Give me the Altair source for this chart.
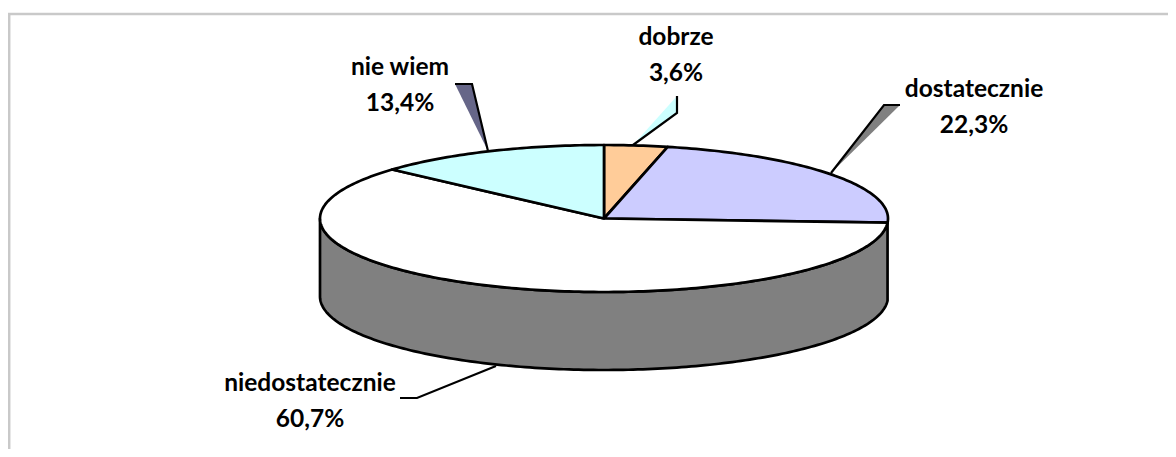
import math
import altair as alt
import pandas as pd

# --- data -----------------------------------------------------------------
categories = ["dobrze", "dostatecznie", "niedostatecznie", "nie wiem"]
shares = [3.6, 22.3, 60.7, 13.4]
share_labels = ["3,6%", "22,3%", "60,7%", "13,4%"]

# --- styling / layout ------------------------------------------------------
slice_fills = ["#FFCC99", "#CCCCFF", "#FFFFFF", "#CCFFFF"]
SIDE_FILL = "#808080"
BORDER = "#C9C9C9"
W, H = 1160, 441
X0, Y0 = 8, 8               # picture px of the chart's top-left corner
CX, CY, RX, RY, DEPTH = 604, 218.5, 284, 73.5, 78

label_pos = {
    "dobrze": (676, 38, 74),
    "dostatecznie": (974, 90, 126),
    "niedostatecznie": (310, 384, 420),
    "nie wiem": (400, 68, 104),
}
leaders = {
    "dobrze": [(633, 145), (677, 113), (677, 96)],
    "dostatecznie": [(831, 173), (884, 105), (900, 105)],
    "niedostatecznie": [(496, 366), (417, 398), (400, 398)],
    "nie wiem": [(488, 151), (472, 84), (455, 84)],
}
leader_fills = {"dobrze": "#CCFFFF", "dostatecznie": "#808080", "nie wiem": "#666688"}


def rim(angle_deg, dy=0.0):
    a = math.radians(angle_deg)
    return [CX + RX * math.sin(a), CY - RY * math.cos(a) + dy]


def arc_pts(a0, a1, dy=0.0):
    n = max(2, int(abs(a1 - a0) / 1.0) + 1)
    return [rim(a0 + (a1 - a0) * i / n, dy) for i in range(n + 1)]


def polygon(points):
    ring = [list(p) for p in points]
    ring.append(ring[0])
    return {"type": "Feature", "properties": {},
            "geometry": {"type": "Polygon", "coordinates": [ring]}}


def shape(points, fill, stroke=None, width=2.7):
    kw = {"fill": fill, "strokeJoin": "round"}
    if stroke:
        kw.update(stroke=stroke, strokeWidth=width)
    else:
        kw.update(strokeWidth=0)
    return (
        alt.Chart(alt.Data(values=[polygon(points)]))
        .mark_geoshape(**kw)
        .project(type="identity", scale=1, translate=[-X0, -Y0])
    )


x_scale = alt.Scale(domain=[X0, X0 + W], range=[0, W])
y_scale = alt.Scale(domain=[Y0, Y0 + H], range=[0, H])
X = alt.X("x:Q", scale=x_scale, axis=None)
Y = alt.Y("y:Q", scale=y_scale, axis=None)


def polyline(points, color, width):
    df = pd.DataFrame({"x": [p[0] for p in points], "y": [p[1] for p in points],
                       "i": range(len(points))})
    return alt.Chart(df).mark_line(color=color, strokeWidth=width, strokeJoin="miter").encode(
        x=X, y=Y, order="i:Q")


layers = []

# chart-area border: only the top and left edges are visible
layers.append(polyline([(X0 + W, 14), (9.2, 14), (9.2, Y0 + H)], BORDER, 2.5))

# leader fills and lines
for name, pts in leaders.items():
    if name in leader_fills:
        layers.append(shape(pts, leader_fills[name]))
for name, pts in leaders.items():
    layers.append(polyline(pts, "#000000", 2.2))

# pie wall, front half only
total = sum(shares)
starts, c = [], 0.0
for s in shares:
    starts.append(c / total * 360)
    c += s
ends = starts[1:] + [360.0]
wall_a0, wall_a1 = ends[1], 270.0
wall = arc_pts(wall_a0, wall_a1) + arc_pts(wall_a1, wall_a0, DEPTH)
layers.append(shape(wall, SIDE_FILL, "#000000"))

# pie top
for a0, a1, fill in zip(starts, ends, slice_fills):
    layers.append(shape([[CX, CY]] + arc_pts(a0, a1), fill, "#000000"))

# labels
rows = []
for cat, lab in zip(categories, share_labels):
    lx, y1, y2 = label_pos[cat]
    rows.append({"x": lx, "y": y1, "t": cat})
    rows.append({"x": lx, "y": y2, "t": lab})
layers.append(
    alt.Chart(pd.DataFrame(rows))
    .mark_text(font="Lato", fontWeight="bold", fontSize=24.5, color="#000000", baseline="middle", align="center")
    .encode(x=X, y=Y, text="t:N")
)

chart = (
    alt.layer(*layers)
    .properties(width=W, height=H, padding=0, background="#FFFFFF",
                autosize=alt.AutoSizeParams(type="none"))
    .configure_view(stroke=None)
)
chart.save("out.html", embed_options={"renderer": "svg", "actions": False})
